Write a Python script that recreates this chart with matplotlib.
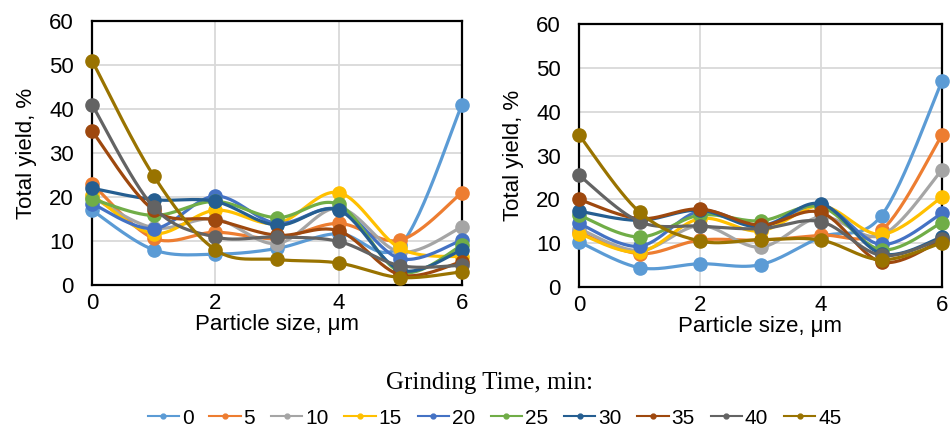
import numpy as np
import matplotlib
matplotlib.use("Agg")
import matplotlib.pyplot as plt
from matplotlib.lines import Line2D

x = [0, 1, 2, 3, 4, 5, 6]
times = ["0", "5", "10", "15", "20", "25", "30", "35", "40", "45"]
colors = ["#5B9BD5", "#ED7D31", "#A5A5A5", "#FFC000", "#4472C4",
          "#70AD47", "#255E91", "#9E480E", "#636363", "#997300"]

left_0 = [17, 8, 7, 8.3, 11.7, 9, 41]
left_5 = [23, 10.6, 12, 10.6, 14, 10.2, 21]
left_10 = [20, 13, 15, 9.4, 17.5, 7.5, 13.2]
left_15 = [20.5, 11.7, 17, 14, 21, 8.3, 6.4]
left_20 = [18.5, 12.8, 20.2, 14, 17.2, 6, 10.2]
left_25 = [19.6, 15.8, 19, 15.3, 18.3, 3, 9]
left_30 = [22, 19.4, 19, 13.6, 17, 3.4, 8]
left_35 = [35, 17, 14.8, 11.3, 12.3, 2.3, 5.3]
left_40 = [41, 17.7, 10.9, 10.9, 9.9, 4.4, 4.5]
left_45 = [51, 24.8, 8, 5.8, 5, 1.7, 3]

right_0 = [10.3, 4.4, 5.3, 5.1, 11.4, 16.3, 47]
right_5 = [12.5, 7.6, 10.7, 10.7, 11.8, 12.9, 34.7]
right_10 = [13.3, 8.3, 14, 9.1, 16, 11.8, 26.7]
right_15 = [12.2, 8, 15.6, 12.8, 18.5, 12, 20.5]
right_20 = [14.5, 9.3, 17.3, 14, 18.7, 9.7, 16.8]
right_25 = [16.4, 11.4, 16.4, 15.1, 18.3, 8.5, 14.7]
right_30 = [17.3, 15.2, 17.5, 13.7, 19, 7.6, 11.4]
right_35 = [20, 15.6, 17.8, 14.1, 17, 5.7, 10.7]
right_40 = [25.5, 14.9, 13.9, 13.3, 14.9, 7.2, 11]
right_45 = [34.7, 17.1, 10.5, 10.8, 10.7, 6.2, 10.1]

left_series = [left_0, left_5, left_10, left_15, left_20,
               left_25, left_30, left_35, left_40, left_45]
right_series = [right_0, right_5, right_10, right_15, right_20,
                right_25, right_30, right_35, right_40, right_45]

plt.rcParams["font.family"] = ["Liberation Sans", "DejaVu Sans"]


def smooth(xs, ys, n=30):
    """Excel-like smoothed line (Bezier through the data points)."""
    xs = np.asarray(xs, float)
    ys = np.asarray(ys, float)
    P = np.column_stack([xs, ys])
    P = np.vstack([P[0], P, P[-1]])
    out = []
    t = np.linspace(0, 1, n)
    for i in range(1, len(P) - 2):
        p0, p1, p2, p3 = P[i - 1], P[i], P[i + 1], P[i + 2]
        c1 = p1 + (p2 - p0) / 6.0
        c2 = p2 - (p3 - p1) / 6.0
        seg = ((1 - t) ** 3)[:, None] * p1 + (3 * (1 - t) ** 2 * t)[:, None] * c1 \
            + (3 * (1 - t) * t ** 2)[:, None] * c2 + (t ** 3)[:, None] * p2
        out.append(seg if i == 1 else seg[1:])
    S = np.vstack(out)
    return S[:, 0], S[:, 1]


fig = plt.figure(figsize=(9.51, 4.33), dpi=100)
ax1 = fig.add_axes([92 / 951, 1 - 285 / 433, 370 / 951, 264 / 433])
ax2 = fig.add_axes([579 / 951, 1 - 287 / 433, 363 / 951, 263 / 433])

for ax, series in [(ax1, left_series), (ax2, right_series)]:
    for ys, c in zip(series, colors):
        sx, sy = smooth(x, ys)
        ax.plot(sx, sy, color=c, lw=2.3, solid_capstyle="round", clip_on=False, zorder=3)
        ax.plot(x, ys, "o", color=c, ms=9.5, clip_on=False, zorder=3)
    ax.set_xlim(0, 6)
    ax.set_ylim(0, 60)
    ax.set_xticks([0, 2, 4, 6])
    ax.set_yticks(range(0, 61, 10))
    ax.grid(True, color="#D9D9D9", lw=1.3, zorder=0)
    ax.set_axisbelow(True)
    ax.tick_params(length=0, labelsize=16, colors="black")
    ax.tick_params(axis="y", pad=13)
    ax.tick_params(axis="x", pad=6)
    for s in ax.spines.values():
        s.set_color("black")
        s.set_linewidth(1.6)
    ax.set_xlabel("Particle size, μm", fontsize=16, labelpad=0)
    ax.set_ylabel("Total yield, %", fontsize=16, labelpad=9)

fig.text(0.515, 1 - 383 / 433, "Grinding Time, min:", ha="center", va="center",
         fontsize=18, family=["Liberation Serif", "DejaVu Serif"])

handles = [Line2D([0], [0], color=c, lw=1.5, marker="o", ms=3.5) for c in colors]
fig.legend(handles, times, loc="center", bbox_to_anchor=(0.52, 1 - 418 / 433), ncol=10,
           frameon=False, fontsize=15, handlelength=1.5, handletextpad=0.15,
           columnspacing=0.75, borderpad=0)

fig.savefig("out.png", dpi=100)
